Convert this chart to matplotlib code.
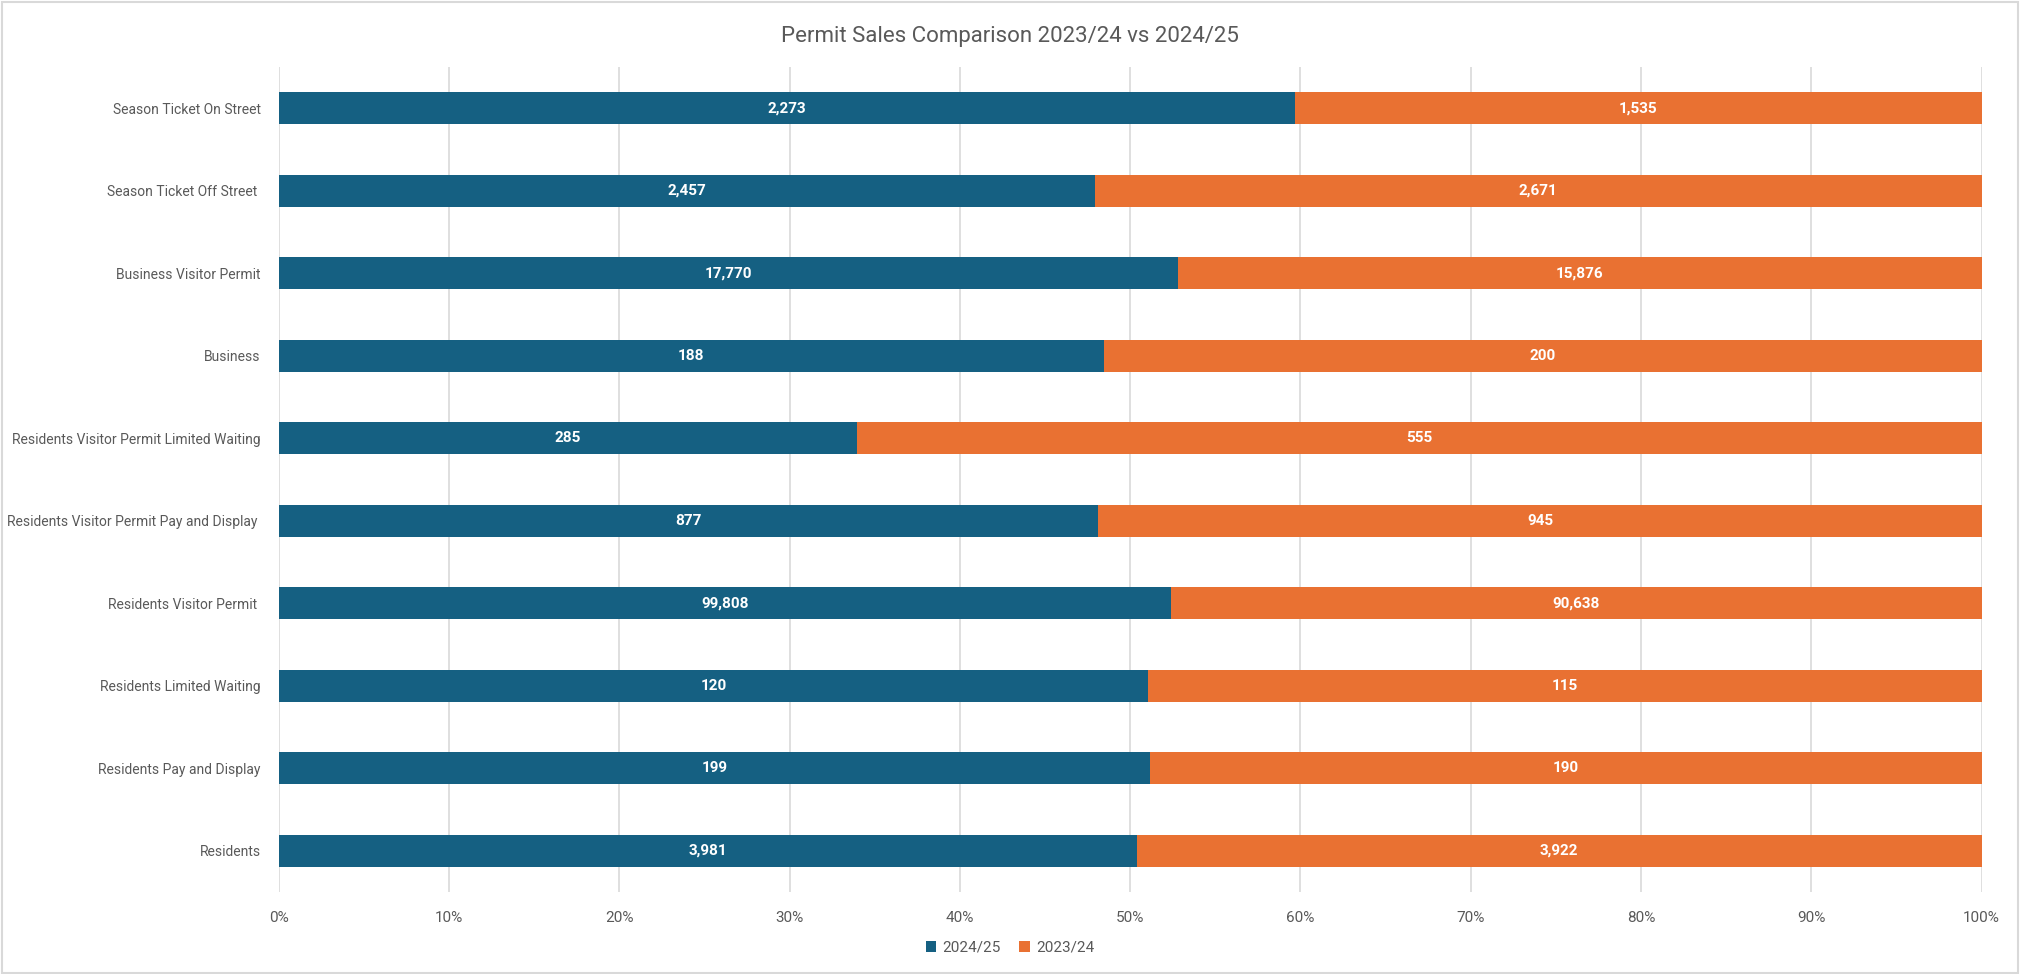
import matplotlib.pyplot as plt
from matplotlib.patches import Rectangle
from matplotlib.ticker import PercentFormatter
import numpy as np

plt.rcParams['font.family'] = ['Roboto', 'DejaVu Sans']

# bottom to top, as drawn
categories = [
    "Residents",
    "Residents Pay and Display",
    "Residents Limited Waiting",
    "Residents Visitor Permit ",
    "Residents Visitor Permit Pay and Display ",
    "Residents Visitor Permit Limited Waiting",
    "Business",
    "Business Visitor Permit",
    "Season Ticket Off Street ",
    "Season Ticket On Street",
]
sales_2425 = [3981, 199, 120, 99808, 877, 285, 188, 17770, 2457, 2273]
sales_2324 = [3922, 190, 115, 90638, 945, 555, 200, 15876, 2671, 1535]

blue = "#156082"
orange = "#E97132"
grey_txt = "#595959"

a = np.array(sales_2425, dtype=float)
b = np.array(sales_2324, dtype=float)
tot = a + b
pa = a / tot
pb = b / tot
y = np.arange(len(categories))

fig = plt.figure(figsize=(20.2, 9.74), dpi=100)
ax = fig.add_axes([0.138, 0.0842, 0.843, 0.847])

bars1 = ax.barh(y, pa, height=0.39, color=blue, label="2024/25", zorder=3)
bars2 = ax.barh(y, pb, left=pa, height=0.39, color=orange, label="2023/24", zorder=3)

for i in range(len(y)):
    ax.text(pa[i] / 2, y[i], f"{sales_2425[i]:,}", ha="center", va="center",
            color="white", fontsize=11, fontweight="bold", zorder=4)
    ax.text(pa[i] + pb[i] / 2, y[i], f"{sales_2324[i]:,}", ha="center", va="center",
            color="white", fontsize=11, fontweight="bold", zorder=4)

ax.set_xlim(0, 1)
ax.set_ylim(-0.5, len(y) - 0.5)
ax.set_xticks(np.arange(0, 1.01, 0.1))
ax.xaxis.set_major_formatter(PercentFormatter(1.0, decimals=0))
ax.set_yticks(y)
ax.set_yticklabels(categories)
ax.tick_params(axis="both", length=0, colors=grey_txt)
ax.tick_params(axis="x", pad=14, labelsize=11)
ax.tick_params(axis="y", pad=13, labelsize=10)
ax.grid(axis="x", color="#D9D9D9", linewidth=1.2, zorder=0)
for s in ax.spines.values():
    s.set_visible(False)

fig.suptitle("Permit Sales Comparison 2023/24 vs 2024/25", y=0.973, fontsize=16, color=grey_txt)

fig.legend(handles=[bars1, bars2], loc="center", bbox_to_anchor=(0.5, 0.027), ncol=2,
           frameon=False, fontsize=11, labelcolor=grey_txt, handlelength=0.7,
           handleheight=0.7, handletextpad=0.4, columnspacing=1.2)

fig.add_artist(Rectangle((0.001, 0.001), 0.998, 0.997, transform=fig.transFigure,
                         fill=False, edgecolor="#D9D9D9", linewidth=1.5))

fig.savefig("out.png", dpi=100, facecolor="white")
